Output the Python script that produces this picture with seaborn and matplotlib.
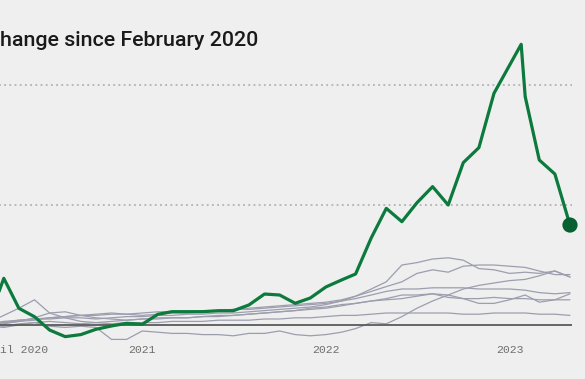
import matplotlib
matplotlib.use("Agg")
import matplotlib.pyplot as plt
import pandas as pd
import seaborn as sns

# ---------------- data ----------------
month_labels = pd.date_range("2020-02-01", "2023-05-01", freq="MS").strftime("%Y-%m-%d").tolist()

green_dates = month_labels[:35] + ["2023-01-24"] + month_labels[36:]
green_values = [0, 3, 38.9, 13.9, 6.9, -4.2, -9.7, -8.0, -3.6, -0.8,
                1.4, 0.6, 8.9, 11.1, 11.1, 11.1, 11.9, 11.9, 16.7, 25.8,
                25.0, 18.1, 22.5, 31.7, 37.5, 42.5, 72.5, 97.2, 86.1, 101.9,
                115.3, 100.0, 135.3, 147.8, 193.1, 233.9, 190.3, 137.5, 125.8, 83.3]

gray_series = {
    "L1": [0, 1, 3, 4, 5, 5, 6, 6, 5, 6, 7, 7, 8, 8, 9, 9, 10, 10, 11, 12,
           13, 14, 15, 17, 20, 24, 30, 36, 50, 52, 55, 56, 54, 47, 46, 43, 44, 43, 45, 40],
    "L2": [0, 1, 2, 3, 4, 6, 7, 8, 8, 9, 9, 8, 9, 10, 10, 11, 12, 13, 14, 15,
           16, 17, 18, 19, 21, 24, 28, 32, 36, 43, 46, 44, 49, 50, 50, 49, 48, 45, 42, 42],
    "L3": [0, -1, -2, 0, 2, -1, -2, -1, -2, -12, -12, -5, -6, -7, -7, -8, -8, -9, -7, -7,
           -5, -8, -9, -8, -6, -3, 2, 1, 7, 14, 20, 25, 30, 33, 35, 37, 38, 41, 45, 40],
    "L4": [0, 1, 2, 4, 5, 6, 7, 8, 9, 10, 9, 10, 11, 11, 11, 12, 12, 13, 13, 14,
           15, 16, 17, 18, 20, 22, 25, 28, 30, 30, 31, 31, 31, 30, 30, 30, 29, 27, 26, 27],
    "L5": [0, 2, 8, 14, 21, 10, 6, 3, 2, 3, 4, 5, 5, 6, 6, 7, 7, 8, 9, 10,
           11, 12, 13, 14, 16, 18, 20, 22, 25, 25, 26, 25, 22, 18, 18, 21, 25, 19, 21, 26],
    "L6": [0, 0, 1, 3, 6, 10, 11, 8, 6, 5, 4, 5, 6, 6, 6, 7, 8, 8, 9, 10,
           11, 12, 14, 15, 17, 18, 20, 21, 22, 24, 26, 23, 22, 22, 23, 22, 22, 21, 21, 21],
    "L7": [0, 0, -1, 1, 2, 3, 2, 1, 2, 1, 2, 2, 2, 3, 3, 3, 4, 4, 4, 5,
           5, 6, 6, 7, 8, 8, 9, 10, 10, 10, 10, 10, 9, 9, 10, 10, 10, 9, 9, 8],
}

tick_dates = ["2020-05-11", "2021-01-01", "2022-01-01", "2023-01-01"]
tick_labels = ["il 2020", "2021", "2022", "2023"]
grid_values = [100, 200]
title = "hange since February 2020"

# ---------------- style ----------------
BG = "#efefef"
GRAY = "#9c9eae"
GREEN = "#0b7a3c"
DOT = "#07602f"

sns.set_theme(style="white")
plt.rcParams["font.family"] = ["DejaVu Sans"]

fig = plt.figure(figsize=(5.85, 3.79), dpi=100, facecolor=BG)
W, H = 585, 379
left_px, right_px = -26.4, 572
top_px, bot_px = 40, 343
ax = fig.add_axes([left_px / W, 1 - bot_px / H, (right_px - left_px) / W, (bot_px - top_px) / H])
ax.set_facecolor(BG)

gray_df = pd.DataFrame(
    [(name, pd.Timestamp(d), v) for name, vals in gray_series.items() for d, v in zip(month_labels, vals)],
    columns=["series", "date", "value"],
)
sns.lineplot(data=gray_df, x="date", y="value", units="series", estimator=None,
             color=GRAY, lw=0.9, ax=ax, zorder=2)

green_df = pd.DataFrame({"date": pd.to_datetime(green_dates), "value": green_values})
sns.lineplot(data=green_df, x="date", y="value", color=GREEN, lw=2.3, ax=ax, zorder=4,
             estimator=None)
sns.scatterplot(data=green_df.tail(1), x="date", y="value", color=DOT, s=120,
                edgecolor="none", ax=ax, zorder=5, clip_on=False)

ax.axhline(0, color="#5a5a5a", lw=1.3, zorder=3)
for g in grid_values:
    ax.axhline(g, color="#a8a8a8", lw=1.1, ls=(0, (1.2, 2.2)), zorder=1)

ax.set_xlim(pd.Timestamp("2020-02-01"), pd.Timestamp("2023-05-05"))
ax.set_ylim(-15, 237.5)
ax.set_xticks(pd.to_datetime(tick_dates))
ax.set_xticklabels(tick_labels, family="Liberation Mono", fontsize=8.2, color="#6e6e6e")
ax.set_yticks([])
ax.tick_params(axis="x", length=0, pad=1.5)
ax.set_xlabel("")
ax.set_ylabel("")
for s in ax.spines.values():
    s.set_visible(False)

fig.text(0.5 / W, 1 - 46 / H, title, ha="left", va="baseline",
         family="Roboto", fontsize=15.4, fontweight="medium", color="#1a1a1a")

fig.savefig("out.png", dpi=100, facecolor=BG)
